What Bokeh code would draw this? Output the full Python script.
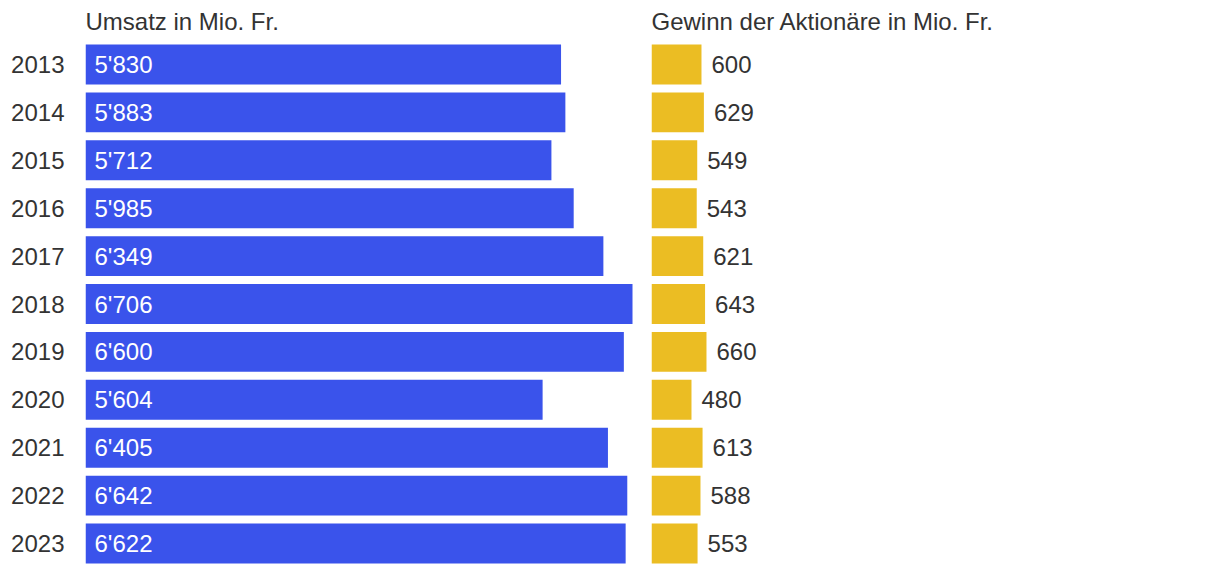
from bokeh.plotting import figure
from bokeh.models import ColumnDataSource, FactorRange, Range1d
from bokeh.layouts import row
from bokeh.embed import file_html
from bokeh.resources import INLINE
from bokeh.core.properties import value

years = ["2013", "2014", "2015", "2016", "2017", "2018", "2019", "2020", "2021", "2022", "2023"]
umsatz = [5830, 5883, 5712, 5985, 6349, 6706, 6600, 5604, 6405, 6642, 6622]
gewinn = [600, 629, 549, 543, 621, 643, 660, 480, 613, 588, 553]
title_left = "Umsatz in Mio. Fr."
title_right = "Gewinn der Aktionäre in Mio. Fr."

BLUE = "#3a53eb"
YELLOW = "#ebbd23"
TXT = "#333333"
FONT = "Liberation Sans"
FS = "24px"

def fmt(v):
    return f"{v:,}".replace(",", "'")

src = ColumnDataSource(dict(
    year=years, umsatz=umsatz, gewinn=gewinn,
    ulab=[fmt(v) for v in umsatz], glab=[str(v) for v in gewinn],
    zero=[0] * len(years),
))

yr = FactorRange(*reversed(years), range_padding=0)

def base(width, frame_w, border_left, title, scale):
    p = figure(width=width, height=567, y_range=yr,
               x_range=Range1d(0, frame_w / scale),
               output_backend="svg", toolbar_location=None,
               min_border_left=border_left, min_border_right=0,
               min_border_top=39, min_border_bottom=0,
               title=title)
    p.title.text_font = FONT
    p.title.text_font_size = FS
    p.title.text_font_style = "normal"
    p.title.text_color = TXT
    p.title.text_line_height = 0.6
    p.title.align = "left"
    p.title.standoff = 11
    p.title.offset = 0
    p.xaxis.visible = False
    p.xgrid.visible = False
    p.ygrid.visible = False
    p.outline_line_color = None
    p.background_fill_color = "white"
    p.border_fill_color = "white"
    return p

p1 = base(639, 554, 85, title_left, 547 / 6706.0)
p1.hbar(y="year", left=0, right="umsatz", height=40 / 48, source=src,
        fill_color=BLUE, line_color=None)
p1.text(x="zero", y="year", text="ulab", source=src, x_offset=9,
        text_align="left", text_baseline="middle", text_color="white",
        text_font=value(FONT), text_font_size=FS)
p1.yaxis.axis_line_color = None
p1.yaxis.major_tick_line_color = None
p1.yaxis.minor_tick_line_color = None
p1.yaxis.major_tick_out = 0
p1.yaxis.major_label_standoff = 21
p1.yaxis.major_label_text_font = FONT
p1.yaxis.major_label_text_font_size = FS
p1.yaxis.major_label_text_color = TXT

p2 = base(565, 553, 12, title_right, 0.0833)
p2.yaxis.visible = False
p2.hbar(y="year", left=0, right="gewinn", height=40 / 48, source=src,
        fill_color=YELLOW, line_color=None)
p2.text(x="gewinn", y="year", text="glab", source=src, x_offset=10,
        text_align="left", text_baseline="middle", text_color=TXT,
        text_font=value(FONT), text_font_size=FS)

layout = row(p1, p2)
open("out.html", "w").write(file_html(layout, INLINE))
